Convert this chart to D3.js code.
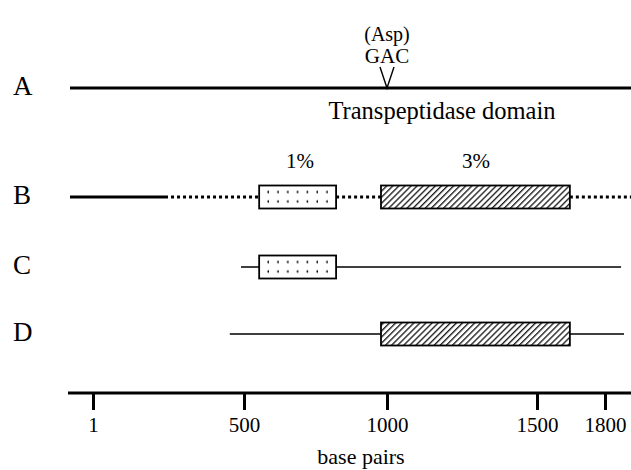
<!DOCTYPE html>
<html lang="en">
<head>
  <meta charset="utf-8">
  <script src="https://d3js.org/d3.v7.min.js"></script>
  <style>
    body { margin: 0; background: white; }
    svg text { font-family: "Liberation Serif", "DejaVu Serif", serif; fill: black; }
    .row-label { font-size: 27px; }
    .note { font-size: 20px; }
  </style>
</head>
<body>
<script>
  // axis ticks (base pairs)
  var tickValues = [1, 500, 1000, 1500, 1800];

  // rows of the map
  var rows = ["A", "B", "C", "D"];

  // row A: full gene with the GAC (Asp) site
  var geneA = [-75, 1915];
  var siteA = 1000;

  // row B: solid part, dotted parts
  var solidB = [-75, 239];
  var dottedB = [[239, 553], [822, 979], [1645, 1915]];

  // boxes: start, end, fill kind, label
  var boxStart = [553, 979];
  var boxEnd = [822, 1645];
  var boxKind = ["dots", "hatch"];
  var boxLabel = ["1%", "3%"];

  // rows C and D: thin line and one box each
  var lineC = [490, 1871];
  var lineD = [453, 1884];

  var w = 631, h = 470;
  var svg = d3.select("body").append("svg")
    .attr("width", w).attr("height", h);

  // hand-drawn figure: tick spacing is not even, so the scale is piecewise
  var x = d3.scaleLinear()
    .domain(tickValues)
    .range([93, 244, 387, 537, 605]);

  var y = d3.scaleOrdinal()
    .domain(rows)
    .range([88, 197, 267, 334]);

  var defs = svg.append("defs");

  // row labels
  svg.selectAll("text.row-label")
    .data(rows)
    .enter().append("text")
    .attr("class", "row-label")
    .attr("x", 13)
    .attr("y", function (d) { return y(d) + 7; })
    .text(function (d) { return d; });

  // row A
  svg.append("line")
    .attr("x1", x(geneA[0])).attr("x2", x(geneA[1]))
    .attr("y1", y("A")).attr("y2", y("A"))
    .attr("stroke", "black").attr("stroke-width", 3);
  svg.append("path")
    .attr("d", "M" + (x(siteA) - 7) + "," + (y("A") - 21) +
      "L" + x(siteA) + "," + y("A") +
      "L" + (x(siteA) + 7) + "," + (y("A") - 21))
    .attr("fill", "none").attr("stroke", "black").attr("stroke-width", 1.4);
  svg.append("text").attr("class", "note")
    .attr("x", x(siteA)).attr("y", 41).attr("text-anchor", "middle").text("(Asp)");
  svg.append("text").attr("class", "note")
    .attr("x", x(siteA)).attr("y", 63).attr("text-anchor", "middle")
    .style("font-size", "21px").text("GAC");
  svg.append("text")
    .attr("x", 442).attr("y", 119).attr("text-anchor", "middle")
    .style("font-size", "24.5px").text("Transpeptidase domain");

  // row B
  svg.append("line")
    .attr("x1", x(solidB[0])).attr("x2", x(solidB[1]))
    .attr("y1", y("B")).attr("y2", y("B"))
    .attr("stroke", "black").attr("stroke-width", 3);
  svg.selectAll("line.dotted")
    .data(dottedB)
    .enter().append("line")
    .attr("class", "dotted")
    .attr("x1", function (d) { return x(d[0]); })
    .attr("x2", function (d) { return x(d[1]); })
    .attr("y1", y("B")).attr("y2", y("B"))
    .attr("stroke", "black").attr("stroke-width", 3)
    .attr("stroke-dasharray", "3,3");

  // rows C and D lines
  [["C", lineC], ["D", lineD]].forEach(function (r) {
    svg.append("line")
      .attr("x1", x(r[1][0])).attr("x2", x(r[1][1]))
      .attr("y1", y(r[0])).attr("y2", y(r[0]))
      .attr("stroke", "black").attr("stroke-width", 1.6);
  });

  // boxes
  var boxes = [
    { row: "B", i: 0 }, { row: "B", i: 1 },
    { row: "C", i: 0 }, { row: "D", i: 1 }
  ];
  var boxH = 23;
  boxes.forEach(function (d, k) {
    var bx = x(boxStart[d.i]), by = y(d.row) - boxH / 2;
    var id = "fill" + k;
    if (boxKind[d.i] === "dots") {
      var p = defs.append("pattern")
        .attr("id", id)
        .attr("patternUnits", "userSpaceOnUse")
        .attr("x", bx).attr("y", by)
        .attr("width", 9.8).attr("height", boxH);
      p.append("rect").attr("width", 9.8).attr("height", boxH).attr("fill", "white");
      p.append("circle").attr("cx", 9.5).attr("cy", 6.5).attr("r", 1.3).attr("fill", "black");
      p.append("circle").attr("cx", 9.5).attr("cy", 16).attr("r", 1.3).attr("fill", "black");
    } else {
      var q = defs.append("pattern")
        .attr("id", id)
        .attr("patternUnits", "userSpaceOnUse")
        .attr("width", 4.3).attr("height", 4.3)
        .attr("patternTransform", "rotate(45)");
      q.append("rect").attr("width", 4.3).attr("height", 4.3).attr("fill", "white");
      q.append("line")
        .attr("x1", 0.7).attr("y1", 0).attr("x2", 0.7).attr("y2", 4.3)
        .attr("stroke", "black").attr("stroke-width", 1.2);
    }
    svg.append("rect")
      .attr("class", "box")
      .attr("x", bx)
      .attr("width", x(boxEnd[d.i]) - bx)
      .attr("y", by)
      .attr("height", boxH)
      .attr("fill", "url(#" + id + ")")
      .attr("stroke", "black").attr("stroke-width", 1.8);
  });

  svg.selectAll("text.pct")
    .data(boxLabel)
    .enter().append("text")
    .attr("class", "pct")
    .attr("x", function (d, i) { return i ? 476 : 300; })
    .attr("y", 168)
    .attr("text-anchor", "middle")
    .style("font-size", "21px")
    .text(function (d) { return d; });

  // axis
  var axisY = 393;
  svg.append("line")
    .attr("x1", 68).attr("x2", w)
    .attr("y1", axisY).attr("y2", axisY)
    .attr("stroke", "black").attr("stroke-width", 3);
  var axis = d3.axisBottom(x)
    .tickValues(tickValues)
    .tickSize(17)
    .tickPadding(7)
    .tickFormat(d3.format("d"));
  var g = svg.append("g")
    .attr("transform", "translate(0," + axisY + ")")
    .call(axis);
  g.attr("font-family", null).attr("font-size", null);
  g.select(".domain").remove();
  g.selectAll(".tick line").attr("stroke", "black").attr("stroke-width", 3);
  g.selectAll(".tick text")
    .attr("fill", "black")
    .style("font-size", "21px");
  svg.append("text")
    .attr("x", 361).attr("y", 464).attr("text-anchor", "middle")
    .style("font-size", "22px")
    .text("base pairs");
</script>
</body>
</html>
